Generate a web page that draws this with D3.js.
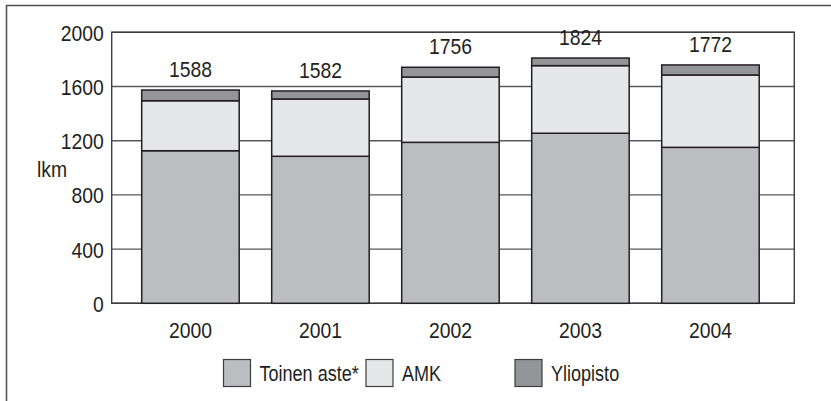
<!DOCTYPE html>
<html>
<head>
<meta charset="utf-8">
<script src="https://cdn.jsdelivr.net/npm/d3@7"></script>
<style>
	body { margin: 0; background: #fff; }
	svg text { font-family: 'Liberation Sans', Arial, sans-serif; fill: #231f20; }
</style>
</head>
<body>
<div id="chart"></div>
<script>
/* global d3 */

const years = ['2000', '2001', '2002', '2003', '2004'];
const toinenAste = [1126, 1085, 1188, 1255, 1151];
const amk = [369, 423, 482, 499, 534];
const yliopisto = [79, 59, 72, 56, 74];
const totals = [1588, 1582, 1756, 1824, 1772];
const yTicks = [0, 400, 800, 1200, 1600, 2000];

const seriesKeys = ['toinen', 'amk', 'yliopisto'];
const seriesNames = ['Toinen aste*', 'AMK', 'Yliopisto'];
const colors = ['#bcbdc0', '#e6e7e8', '#939598'];

const width = 831;
const height = 401;
const margins = {
	left: 111.7,
	right: 36.7,
	top: 32.3,
	bottom: 97.7,
};
const graphWidth = width - margins.left - margins.right;
const graphHeight = height - margins.top - margins.bottom;

// no condensed font installed, so squeeze text horizontally
function narrow(squeeze) {
	return sel => sel.each(function () {
		const t = d3.select(this);
		t.attr('x', (Number(t.attr('x')) || 0) / squeeze)
			.attr('transform', `scale(${squeeze},1)`);
	});
}

const svg = d3.select('#chart').append('svg')
	.attr('width', width)
	.attr('height', height);

// outer frame
svg.append('rect')
	.attr('x', 6.5)
	.attr('y', 5.5)
	.attr('width', 830)
	.attr('height', 410)
	.attr('fill', 'none')
	.attr('stroke', '#4d4d4f')
	.attr('stroke-width', 1.5);

const chart = svg.append('g')
	.attr('transform', `translate(${margins.left},${margins.top})`);

const rows = years.map((year, i) => ({
	year: year,
	toinen: toinenAste[i],
	amk: amk[i],
	yliopisto: yliopisto[i],
	total: totals[i],
}));

const x = d3.scaleBand()
	.domain(years)
	.range([13.75, 663.75])
	.paddingInner(0.25)
	.paddingOuter(0.125);

const y = d3.scaleLinear()
	.domain([0, 2000])
	.range([graphHeight, 0]);

// gridlines
chart.append('g')
	.selectAll('line')
	.data(yTicks)
	.enter().append('line')
	.attr('x1', 0)
	.attr('x2', graphWidth)
	.attr('y1', d => y(d))
	.attr('y2', d => y(d))
	.attr('stroke', '#58595b')
	.attr('stroke-width', 1.4);

// plot border
chart.append('rect')
	.attr('width', graphWidth)
	.attr('height', graphHeight)
	.attr('fill', 'none')
	.attr('stroke', '#3d3d3f')
	.attr('stroke-width', 1.4);

// y axis labels
const yAxis = d3.axisLeft(y)
	.tickValues(yTicks)
	.tickFormat(d3.format('d'))
	.tickSize(0)
	.tickPadding(8);

chart.append('g')
	.call(yAxis)
	.call(g => g.select('.domain').remove())
	.selectAll('text')
	.attr('font-size', 22)
	.attr('font-family', null)
	.attr('fill', '#231f20')
	.attr('dy', '0.36em')
	.call(narrow(0.88));

svg.append('text')
	.attr('x', 37)
	.attr('y', 177)
	.attr('font-size', 22)
	.text('lkm')
	.call(narrow(0.88));

// x axis labels
const xAxis = d3.axisBottom(x)
	.tickSize(0)
	.tickPadding(19);

chart.append('g')
	.attr('transform', `translate(0,${graphHeight})`)
	.call(xAxis)
	.call(g => g.select('.domain').remove())
	.selectAll('text')
	.attr('font-size', 22)
	.attr('font-family', null)
	.attr('fill', '#231f20')
	.call(narrow(0.88));

// stacked bars
const stacked = d3.stack().keys(seriesKeys)(rows);

const layers = chart.selectAll('.layer')
	.data(stacked)
	.enter().append('g')
	.attr('class', 'layer')
	.attr('fill', (d, i) => colors[i]);

layers.selectAll('rect')
	.data(d => d)
	.enter().append('rect')
	.attr('x', d => x(d.data.year))
	.attr('y', d => y(d[1]))
	.attr('width', x.bandwidth())
	.attr('height', d => y(d[0]) - y(d[1]))
	.attr('stroke', '#231f20')
	.attr('stroke-width', 1.5);

// total labels
chart.selectAll('text.total')
	.data(rows)
	.enter().append('text')
	.attr('class', 'total')
	.attr('x', d => x(d.year) + x.bandwidth() / 2)
	.attr('y', d => y(d.toinen + d.amk + d.yliopisto) - 13)
	.attr('text-anchor', 'middle')
	.attr('font-size', 22)
	.text(d => d.total)
	.call(narrow(0.88));

// legend
const legendX = [223.5, 366, 515];
const legend = svg.selectAll('g.legend')
	.data(seriesNames)
	.enter().append('g')
	.attr('class', 'legend')
	.attr('transform', (d, i) => `translate(${legendX[i]},359.5)`);

legend.append('rect')
	.attr('width', 27)
	.attr('height', 27)
	.attr('fill', (d, i) => colors[i])
	.attr('stroke', '#3d3d3f')
	.attr('stroke-width', 1.2);

legend.append('text')
	.attr('x', 36)
	.attr('y', 13.5)
	.attr('dy', '0.36em')
	.attr('font-size', 22)
	.text(d => d)
	.call(narrow(0.82));
</script>
</body>
</html>
